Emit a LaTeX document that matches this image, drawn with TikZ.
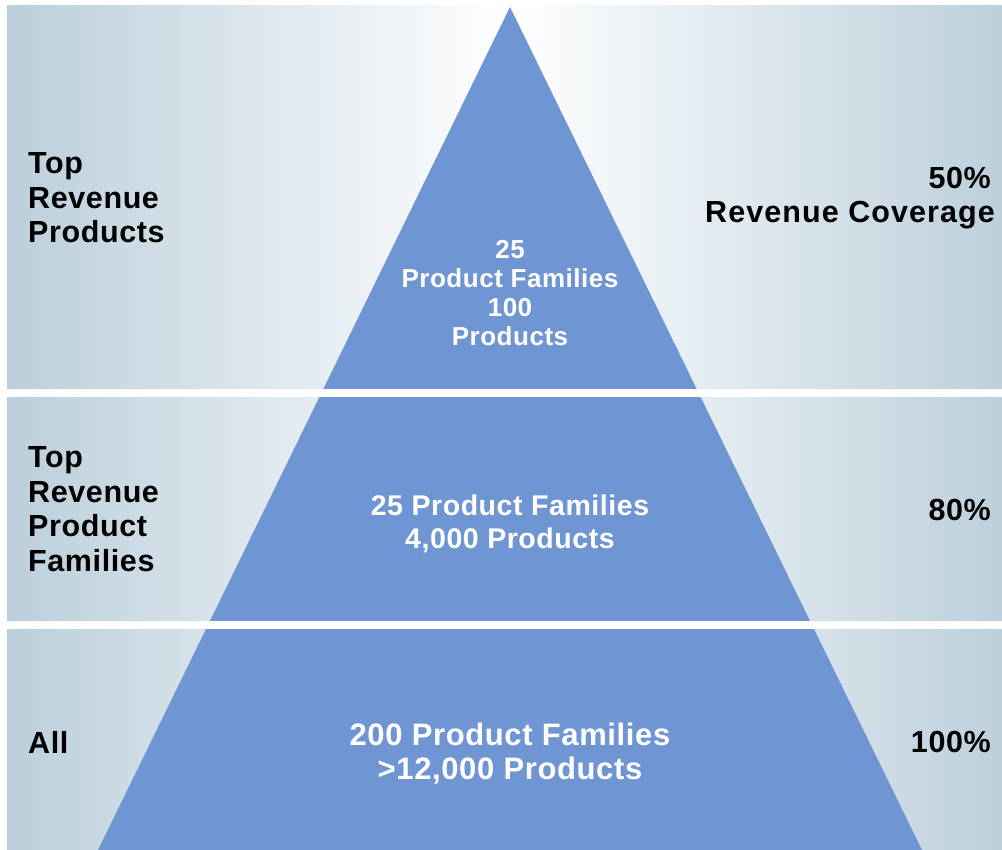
\documentclass[tikz,border=0pt]{standalone}
\usepackage{fontspec}
\setmainfont{Liberation Sans}[LetterSpace=2]
\definecolor{bandedge}{HTML}{BBCFDB}
\definecolor{pyr}{HTML}{6F96D3}
\begin{document}
\begin{tikzpicture}[x=1pt,y=-1pt,
  lbl/.style={inner sep=0pt, font=\bfseries\fontsize{30.5}{34.5}\selectfont, text=black},
  inner/.style={inner sep=0pt, text=white, align=center},
  band/.style={left color=bandedge, right color=bandedge, middle color=white},
  gap/.style={fill=white}]
\useasboundingbox (0,0) rectangle (1002,850);
\fill[white] (0,0) rectangle (1002,850);
\begin{scope}
  \clip (0,0) rectangle (1002,850);
  \shade[band] (7,6) rectangle (1011,389);
  \shade[band] (7,397) rectangle (1011,621);
  \shade[band] (7,629) rectangle (1011,850);
  \fill[pyr] (510,7) -- (922,850) -- (98,850) -- cycle;
  \fill[gap] (0,389) rectangle (1011,397);
  \fill[gap] (0,621) rectangle (1011,629);
\end{scope}
\node[lbl, anchor=west, align=left] (l1) at (28,198) {Top\\Revenue\\Products};
\node[lbl, anchor=west, align=left] (l2) at (28,509) {Top\\Revenue\\Product\\Families};
\node[lbl, anchor=west] (l3) at (28,742) {All};
\node[lbl, anchor=east, align=right] (r1) at (995,198) {50\%\kern4pt\\\addfontfeature{LetterSpace=3.5}Revenue Coverage};
\node[lbl, anchor=east] (r2) at (991,510) {80\%};
\node[lbl, anchor=east] (r3) at (991,742) {100\%};
\node[inner, font=\bfseries\fontsize{26}{29}\selectfont] (t1) at (510,293) {25\\Product Families\\100\\Products};
\node[inner, font=\bfseries\fontsize{28.5}{32.5}\selectfont] (t2) at (510,524) {25 Product Families\\4,000 Products};
\node[inner, font=\bfseries\fontsize{31}{34}\selectfont] (t3) at (510,754) {200 Product Families\\>12,000 Products};
\end{tikzpicture}
\end{document}
